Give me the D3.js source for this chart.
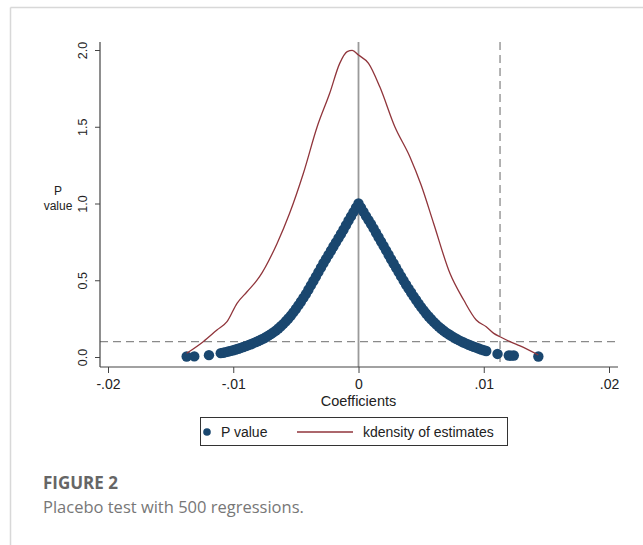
<!DOCTYPE html>
<html>
<head>
<meta charset="utf-8">
<script src="https://cdn.jsdelivr.net/npm/d3@7"></script>
<style>
  body { margin: 0; background: #fff; }
  svg { display: block; }
</style>
</head>
<body>
<svg id="chart"></svg>
<script>
// P values of the 500 placebo regressions
const pCoef = [
  -0.01372, -0.01311, -0.01194,
  -0.0110, -0.0108, -0.0106, -0.0104, -0.0102, -0.0100, -0.0098, -0.0096, -0.0094, -0.0092,
  -0.0090, -0.0088, -0.0086, -0.0084, -0.0082, -0.0080, -0.0078, -0.0076, -0.0074, -0.0072,
  -0.0070, -0.0068, -0.0066, -0.0064, -0.0062, -0.0060, -0.0058, -0.0056, -0.0054, -0.0052,
  -0.0050, -0.0048, -0.0046, -0.0044, -0.0042, -0.0040, -0.0038, -0.0036, -0.0034, -0.0032,
  -0.0030, -0.0028, -0.0026, -0.0024, -0.0022, -0.0020, -0.0018, -0.0016, -0.0014, -0.0012,
  -0.0010, -0.0008, -0.0006, -0.0004, -0.0002, 0.0000,
  0.0002, 0.0004, 0.0006, 0.0008, 0.0010, 0.0012, 0.0014, 0.0016, 0.0018, 0.0020,
  0.0022, 0.0024, 0.0026, 0.0028, 0.0030, 0.0032, 0.0034, 0.0036, 0.0038, 0.0040,
  0.0042, 0.0044, 0.0046, 0.0048, 0.0050, 0.0052, 0.0054, 0.0056, 0.0058, 0.0060,
  0.0062, 0.0064, 0.0066, 0.0068, 0.0070, 0.0072, 0.0074, 0.0076, 0.0078, 0.0080,
  0.0082, 0.0084, 0.0086, 0.0088, 0.0090, 0.0092, 0.0094, 0.0096, 0.0098, 0.0100, 0.0102,
  0.0111, 0.0120, 0.0122, 0.0124, 0.01436
];
const pValue = [
  0.003, 0.004, 0.012,
  0.025, 0.028, 0.032, 0.036, 0.040, 0.044, 0.049, 0.054, 0.059, 0.065,
  0.071, 0.077, 0.083, 0.090, 0.097, 0.104, 0.112, 0.120, 0.129, 0.139,
  0.149, 0.160, 0.172, 0.186, 0.200, 0.216, 0.233, 0.251, 0.270, 0.291,
  0.313, 0.336, 0.360, 0.385, 0.410, 0.438, 0.467, 0.495, 0.524, 0.553,
  0.582, 0.611, 0.638, 0.665, 0.692, 0.720, 0.747, 0.774, 0.801, 0.829,
  0.858, 0.888, 0.916, 0.944, 0.972, 1.000,
  0.972, 0.945, 0.918, 0.892, 0.866, 0.838, 0.809, 0.780, 0.752, 0.724,
  0.695, 0.666, 0.637, 0.609, 0.581, 0.553, 0.525, 0.498, 0.471, 0.445,
  0.420, 0.395, 0.371, 0.348, 0.325, 0.304, 0.283, 0.264, 0.246, 0.229,
  0.213, 0.198, 0.184, 0.171, 0.159, 0.148, 0.138, 0.128, 0.119, 0.110,
  0.102, 0.094, 0.087, 0.080, 0.073, 0.067, 0.061, 0.055, 0.049, 0.044, 0.039,
  0.020, 0.010, 0.009, 0.010, 0.003
];

// kernel density of the estimates
const kdX = [-0.01372, -0.0124, -0.0113, -0.0105, -0.0097, -0.0089, -0.0079, -0.0065, -0.0055,
  -0.0044, -0.0033, -0.0023, -0.0015, -0.0009, -0.0005, 0.0000, 0.0008, 0.0017, 0.0029,
  0.0041, 0.0050, 0.0060, 0.0073, 0.0084, 0.0094, 0.0102, 0.0108, 0.0113, 0.0121, 0.0129, 0.01436];
const kdY = [0.024, 0.10, 0.176, 0.23, 0.35, 0.425, 0.523, 0.74, 0.936,
  1.197, 1.50, 1.718, 1.913, 1.989, 1.997, 1.967, 1.913, 1.76, 1.50,
  1.305, 1.12, 0.87, 0.545, 0.371, 0.241, 0.197, 0.154, 0.132, 0.10, 0.072, 0.013];

// reference lines
const trueEstimate = 0.0113;
const pCutoff = 0.1;

const xTicks = [-0.02, -0.01, 0, 0.01, 0.02];
const xTickLabels = ["-.02", "-.01", "0", ".01", ".02"];
const yTicks = [0, 0.5, 1, 1.5, 2];
const yTickLabels = ["0.0", "0.5", "1.0", "1.5", "2.0"];

const width = 643, height = 545;
const svg = d3.select("#chart").attr("width", width).attr("height", height);

// frame of the figure panel
svg.append("line").attr("x1", 10.5).attr("x2", width).attr("y1", 7.5).attr("y2", 7.5)
  .attr("stroke", "#d8d8d8").attr("stroke-width", 1.5);
svg.append("line").attr("x1", 10.5).attr("x2", 10.5).attr("y1", 7.5).attr("y2", height)
  .attr("stroke", "#d8d8d8").attr("stroke-width", 1.5);

const x = d3.scaleLinear().domain([-0.02, 0.02]).range([108, 609]);
const y = d3.scaleLinear().domain([0, 2]).range([357, 50]);

const plotLeft = 100, plotRight = 618, plotTop = 42, plotBottom = 367;
const font = "'Liberation Sans', Arial, sans-serif";

// reference lines
svg.append("line")
  .attr("x1", plotLeft).attr("x2", plotRight)
  .attr("y1", y(pCutoff)).attr("y2", y(pCutoff))
  .attr("stroke", "#8a8a8a").attr("stroke-width", 1.3).attr("stroke-dasharray", "8,5");
svg.append("line")
  .attr("x1", x(trueEstimate)).attr("x2", x(trueEstimate))
  .attr("y1", plotTop).attr("y2", plotBottom)
  .attr("stroke", "#8a8a8a").attr("stroke-width", 1.3).attr("stroke-dasharray", "8,5");
svg.append("line")
  .attr("x1", x(0)).attr("x2", x(0))
  .attr("y1", plotTop).attr("y2", plotBottom)
  .attr("stroke", "#9a9a9a").attr("stroke-width", 1.8);

// P value scatter
const pts = pCoef.map((c, i) => ({ c: c, p: pValue[i] }));
svg.append("g").selectAll("circle")
  .data(pts)
  .enter().append("circle")
  .attr("cx", d => x(d.c))
  .attr("cy", d => y(d.p))
  .attr("r", 5.2)
  .attr("fill", "#1a476f");

// kdensity line
const kd = kdX.map((v, i) => ({ c: v, d: kdY[i] }));
svg.append("path")
  .datum(kd)
  .attr("fill", "none")
  .attr("stroke", "#90353b")
  .attr("stroke-width", 1.3)
  .attr("d", d3.line().x(d => x(d.c)).y(d => y(d.d)).curve(d3.curveMonotoneX));

// axes
const xAxis = svg.append("g")
  .attr("transform", `translate(0, ${plotBottom})`)
  .call(d3.axisBottom(x).tickValues(xTicks).tickSize(6).tickPadding(6)
    .tickFormat((d, i) => xTickLabels[i]));
xAxis.select(".domain").remove();
xAxis.selectAll("text").style("font-family", font).style("font-size", "14px").attr("fill", "#222");
xAxis.selectAll("line").attr("stroke", "#444");
svg.append("line").attr("x1", plotLeft).attr("x2", plotRight)
  .attr("y1", plotBottom).attr("y2", plotBottom).attr("stroke", "#444").attr("stroke-width", 1.2);

const yAxis = svg.append("g")
  .attr("transform", `translate(${plotLeft}, 0)`)
  .call(d3.axisLeft(y).tickValues(yTicks).tickSize(5).tickFormat((d, i) => yTickLabels[i]));
yAxis.select(".domain").remove();
yAxis.selectAll("line").attr("stroke", "#444");
yAxis.selectAll("text")
  .attr("x", null).attr("dy", null)
  .attr("text-anchor", "middle")
  .attr("transform", "translate(-13,0) rotate(-90)")
  .style("font-family", font).style("font-size", "12.5px").attr("fill", "#222");
svg.append("line").attr("x1", plotLeft).attr("x2", plotLeft)
  .attr("y1", plotTop).attr("y2", plotBottom).attr("stroke", "#444").attr("stroke-width", 1.2);

// axis titles
svg.append("text").attr("x", x(0)).attr("y", 406).attr("text-anchor", "middle")
  .style("font-family", font).style("font-size", "14.5px").attr("fill", "#222")
  .text("Coefficients");
svg.append("text").attr("x", 58).attr("y", 195).attr("text-anchor", "middle")
  .style("font-family", font).style("font-size", "12px").attr("fill", "#222").text("P");
svg.append("text").attr("x", 58).attr("y", 210).attr("text-anchor", "middle")
  .style("font-family", font).style("font-size", "12px").attr("fill", "#222").text("value");

// legend
const lg = svg.append("g");
lg.append("rect").attr("x", 200.5).attr("y", 417.5).attr("width", 307).attr("height", 28)
  .attr("fill", "#fff").attr("stroke", "#333").attr("stroke-width", 1);
lg.append("circle").attr("cx", 207).attr("cy", 432).attr("r", 3.8).attr("fill", "#1a476f");
lg.append("text").attr("x", 221).attr("y", 437).style("font-family", font)
  .style("font-size", "14px").attr("fill", "#222").text("P value");
lg.append("line").attr("x1", 297).attr("x2", 353).attr("y1", 432).attr("y2", 432)
  .attr("stroke", "#90353b").attr("stroke-width", 1.3);
lg.append("text").attr("x", 363).attr("y", 437).style("font-family", font)
  .style("font-size", "14px").attr("fill", "#222").text("kdensity of estimates");

// caption
svg.append("text").attr("x", 43).attr("y", 489)
  .style("font-family", "'Open Sans', sans-serif").style("font-size", "17px")
  .style("font-weight", "bold").attr("fill", "#666").text("FIGURE 2");
svg.append("text").attr("x", 43).attr("y", 513)
  .style("font-family", "'Open Sans', sans-serif").style("font-size", "16.5px")
  .attr("fill", "#777").text("Placebo test with 500 regressions.");
</script>
</body>
</html>
